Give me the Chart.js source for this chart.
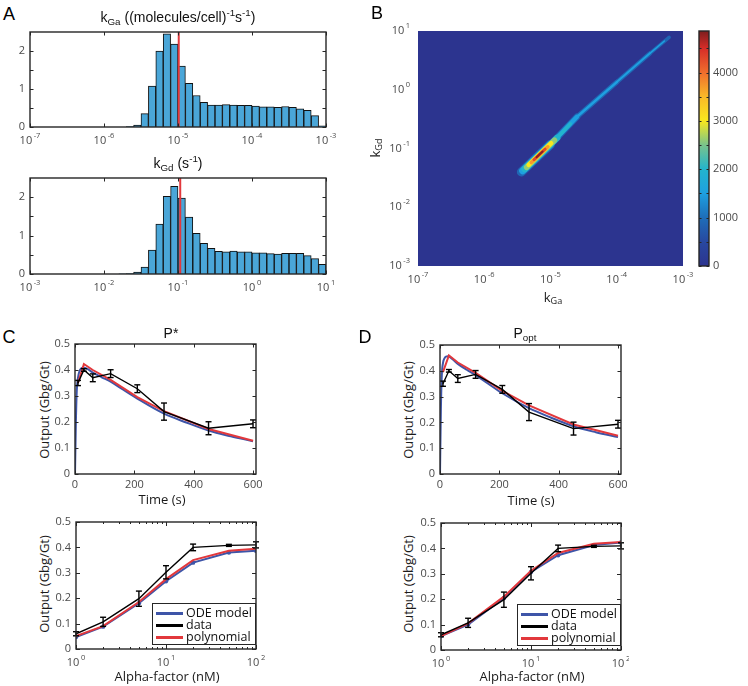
<!DOCTYPE html>
<html>
<head>
<meta charset="utf-8">
<script src="https://cdn.jsdelivr.net/npm/chart.js@4.4.1/dist/chart.umd.min.js"></script>
<style>
  html, body { margin: 0; padding: 0; background: #fff; }
  #fig { position: relative; width: 748px; height: 686px; overflow: hidden; }
  #fig canvas { position: absolute; }
  .txt { position: absolute; white-space: nowrap; line-height: 1; transform: translate(-50%, -50%);
         color: #1a1a1a; font-family: "Open Sans", sans-serif; font-size: 13px; }
  .txt sub, .txt sup { font-size: 70%; line-height: 0; }
  .txt sub { vertical-align: -0.3em; }
  .txt sup { vertical-align: 0.6em; }
  .rot { transform: translate(-50%, -50%) rotate(-90deg); }
  .letter { font-family: "Liberation Sans", Arial, sans-serif; font-size: 18px; color: #000; }
  .title { font-family: "Liberation Sans", Arial, sans-serif; font-size: 14px; color: #111; }
</style>
</head>
<body>
<div id="fig">
  <canvas id="a1"></canvas>
  <canvas id="a2"></canvas>
  <canvas id="b"></canvas>
  <canvas id="cb"></canvas>
  <canvas id="c1"></canvas>
  <canvas id="c2"></canvas>
  <canvas id="d1"></canvas>
  <canvas id="d2"></canvas>

  <div class="txt letter" style="left:9px;top:14px">A</div>
  <div class="txt letter" style="left:377px;top:13px">B</div>
  <div class="txt letter" style="left:9px;top:337px">C</div>
  <div class="txt letter" style="left:365px;top:337px">D</div>

  <div class="txt title" style="left:178px;top:17px">k<sub>Ga</sub> ((molecules/cell)<sup>-1</sup>s<sup>-1</sup>)</div>
  <div class="txt title" style="left:178px;top:163px">k<sub>Gd</sub> (s<sup>-1</sup>)</div>

  <div class="txt rot" style="left:375px;top:148px">k<sub>Gd</sub></div>
  <div class="txt" style="left:553px;top:297px">k<sub>Ga</sub></div>

  <div class="txt title" style="left:171px;top:333px">P*</div>
  <div class="txt title" style="left:525px;top:333px">P<sub>opt</sub></div>

  <div class="txt rot" style="left:44px;top:410px">Output (Gbg/Gt)</div>
  <div class="txt rot" style="left:44px;top:584px">Output (Gbg/Gt)</div>
  <div class="txt rot" style="left:408px;top:410px">Output (Gbg/Gt)</div>
  <div class="txt rot" style="left:408px;top:584px">Output (Gbg/Gt)</div>

  <div class="txt" style="left:162px;top:499px">Time (s)</div>
  <div class="txt" style="left:531px;top:500px">Time (s)</div>
  <div class="txt" style="left:167px;top:676px">Alpha-factor (nM)</div>
  <div class="txt" style="left:532px;top:676px">Alpha-factor (nM)</div>
</div>

<script>
// ---- Panel A: posterior histograms (log10 bin centres, density) ----
const kGaBins = [-5.65, -5.55, -5.45, -5.35, -5.25, -5.15, -5.05, -4.95, -4.85, -4.75, -4.65, -4.55, -4.45, -4.35,
                 -4.25, -4.15, -4.05, -3.95, -3.85, -3.75, -3.65, -3.55, -3.45, -3.35, -3.25, -3.15, -3.05];
const kGaDensity = [0.01, 0.05, 0.35, 1.08, 2.0, 2.45, 2.18, 1.6, 1.15, 0.83, 0.65, 0.58, 0.58, 0.59,
                    0.58, 0.57, 0.57, 0.55, 0.53, 0.53, 0.52, 0.54, 0.52, 0.48, 0.44, 0.3, 0.03];
const kGaBest = -4.99;

const kGdBins = [-1.75, -1.65, -1.55, -1.45, -1.35, -1.25, -1.15, -1.05, -0.95, -0.85, -0.75, -0.65, -0.55, -0.45,
                 -0.35, -0.25, -0.15, -0.05, 0.05, 0.15, 0.25, 0.35, 0.45, 0.55, 0.65, 0.75, 0.85, 0.95];
const kGdDensity = [0.005, 0.01, 0.05, 0.18, 0.62, 1.3, 2.02, 2.28, 1.98, 1.48, 1.06, 0.8, 0.67, 0.59,
                    0.58, 0.6, 0.58, 0.58, 0.55, 0.55, 0.53, 0.52, 0.54, 0.54, 0.54, 0.48, 0.4, 0.25];
const kGdBest = -0.97;

const kGaDecades = [-7, -6, -5, -4, -3];
const kGdDecades = [-3, -2, -1, 0, 1];
const densityTicks = [0, 0.5, 1, 1.5, 2];
const densityLabels = [0, 1, 2];

// ---- Panel B: joint density ridge, as bands of equal count (log10 kGa, log10 kGd) ----
const bandLevels = [900, 1500, 2000, 2600, 3000, 3700, 4300, 4800];
const bandGa = [
  [-5.44, -5.0, -4.6, -4.0, -3.5, -3.21],
  [-5.42, -5.0, -4.6, -4.0, -3.5, -3.28],
  [-5.39, -4.9, -4.7],
  [-5.36, -4.94],
  [-5.33, -4.99],
  [-5.29, -5.04],
  [-5.25, -5.08],
  [-5.21, -5.12]
];
const bandGd = [
  [-1.40, -0.93, -0.46, 0.13, 0.62, 0.89],
  [-1.38, -0.93, -0.46, 0.13, 0.62, 0.83],
  [-1.35, -0.82, -0.58],
  [-1.32, -0.86],
  [-1.28, -0.91],
  [-1.24, -0.97],
  [-1.19, -1.01],
  [-1.15, -1.05]
];
const countMax = 4860;
const countTicks = [0, 500, 1000, 1500, 2000, 2500, 3000, 3500, 4000, 4500];
const countLabels = [0, 1000, 2000, 3000, 4000];

// ---- Panels C/D: time course (s) ----
const dataTime = [10, 30, 60, 120, 210, 300, 450, 600];
const dataOut = [0.35, 0.40, 0.37, 0.386, 0.328, 0.24, 0.176, 0.193];
const dataOutErr = [0.01, 0.005, 0.015, 0.015, 0.015, 0.033, 0.025, 0.015];
const odeTime = [0, 3, 6, 10, 15, 20, 26, 40, 60, 90, 120, 160, 210, 300, 375, 450, 525, 600];
const odeOutC = [0, 0.20, 0.32, 0.37, 0.395, 0.405, 0.41, 0.405, 0.39, 0.372, 0.355, 0.326, 0.29, 0.232, 0.198, 0.167, 0.145, 0.126];
const polyOutC = [0.35, 0.423, 0.40, 0.362, 0.296, 0.242, 0.173, 0.128];
const odeOutD = [0, 0.25, 0.38, 0.43, 0.448, 0.455, 0.456, 0.447, 0.427, 0.404, 0.383, 0.352, 0.313, 0.255, 0.218, 0.185, 0.162, 0.143];
const polyOutD = [0.395, 0.46, 0.432, 0.392, 0.322, 0.266, 0.192, 0.148];
const timeTicks = [0, 200, 400, 600];

// ---- Panels C/D: dose response (nM) ----
const dose = [1, 2, 5, 10, 20, 50, 100];
const doseOut = [0.06, 0.107, 0.198, 0.302, 0.40, 0.408, 0.41];
const doseOutErr = [0.008, 0.018, 0.03, 0.026, 0.013, 0.004, 0.012];
const doseOdeC = [0.047, 0.088, 0.18, 0.267, 0.34, 0.38, 0.387];
const dosePolyC = [0.051, 0.09, 0.185, 0.275, 0.35, 0.387, 0.395];
const doseOdeD = [0.055, 0.10, 0.205, 0.307, 0.373, 0.413, 0.423];
const dosePolyD = [0.055, 0.105, 0.21, 0.312, 0.382, 0.418, 0.425];
const doseMajor = [1, 10, 100];
const doseMinor = [2, 3, 4, 5, 6, 7, 8, 9, 20, 30, 40, 50, 60, 70, 80, 90];
const outTicks = [0, 0.1, 0.2, 0.3, 0.4, 0.5];

// ---- styles ----
const FONT = '"Open Sans", "DejaVu Sans", sans-serif';
const BLUE = '#3e55a8', RED = '#e2383c', BAR = '#4aa6d8';
const cmapPos = [0, 0.103, 0.206, 0.309, 0.412, 0.514, 0.617, 0.72, 0.823, 0.926, 1];
const cmapRGB = [[44, 52, 143], [40, 72, 160], [30, 110, 185], [30, 160, 225], [35, 180, 205], [120, 195, 140],
                 [248, 232, 30], [250, 185, 40], [240, 110, 45], [215, 45, 40], [125, 30, 30]];
const bandWidths = [[9, 6.5, 5, 4.5, 3.5], [7, 4.5, 2.5, 2, 1.5], [6.5, 3.5], [5.5], [4.5], [3.5], [2.8], [2]];

function cmap(v) {
  const f = Math.max(0, Math.min(1, v / countMax));
  let i = 0;
  while (i < cmapPos.length - 2 && f > cmapPos[i + 1]) i++;
  const t = (f - cmapPos[i]) / (cmapPos[i + 1] - cmapPos[i]);
  const c = cmapRGB[i].map((a, k) => Math.round(a + (cmapRGB[i + 1][k] - a) * t));
  return `rgb(${c[0]},${c[1]},${c[2]})`;
}

function line(ctx, x1, y1, x2, y2) {
  ctx.beginPath(); ctx.moveTo(x1, y1); ctx.lineTo(x2, y2); ctx.stroke();
}

// "10" with a raised exponent
function pow10(ctx, x, y, e, align) {
  const ex = String(e);
  ctx.font = '11px ' + FONT;
  const w1 = ctx.measureText('10').width;
  ctx.font = '7.5px ' + FONT;
  const w2 = ctx.measureText(ex).width;
  const total = w1 + 1.5 + w2;
  const x0 = align === 'right' ? x - total : x - total / 2;
  ctx.textAlign = 'left'; ctx.textBaseline = 'middle';
  ctx.font = '11px ' + FONT;
  ctx.fillText('10', x0, y);
  ctx.font = '7.5px ' + FONT;
  ctx.fillText(ex, x0 + w1 + 1.5, y - 5);
}

// MATLAB-like box, inward ticks and tick labels
const axesPlugin = {
  id: 'mAxes',
  afterDraw(chart, args, o) {
    if (!o.on) return;
    const { ctx, chartArea: a } = chart;
    const sx = chart.scales.x, sy = chart.scales.y;
    const len = o.len || 3.5;
    ctx.save();
    ctx.strokeStyle = '#262626';
    ctx.lineWidth = 1;
    const xt = (vals, l) => (vals || []).forEach(v => {
      const p = Math.round(sx.getPixelForValue(v)) + 0.5;
      line(ctx, p, a.bottom, p, a.bottom - l);
      line(ctx, p, a.top, p, a.top + l);
    });
    const yt = (vals, l) => (vals || []).forEach(v => {
      const p = Math.round(sy.getPixelForValue(v)) + 0.5;
      line(ctx, a.left, p, a.left + l, p);
      line(ctx, a.right, p, a.right - l, p);
    });
    xt(o.xTicks, len); xt(o.xMinor, len / 2);
    yt(o.yTicks, len);
    if (o.box) {
      ctx.lineWidth = 1.4;
      ctx.strokeRect(a.left, a.top, a.right - a.left, a.bottom - a.top);
    }
    ctx.fillStyle = '#4a4a4a';
    (o.xLabels || []).forEach(v => {
      const p = sx.getPixelForValue(v);
      if (o.xPow) pow10(ctx, p, a.bottom + (o.xGap || 14), o.xPow(v), 'center');
      else {
        ctx.font = '11px ' + FONT; ctx.textAlign = 'center'; ctx.textBaseline = 'middle';
        ctx.fillText(String(v), p, a.bottom + (o.xGap || 11));
      }
    });
    (o.yLabels || []).forEach(v => {
      const p = sy.getPixelForValue(v);
      if (o.yPow) pow10(ctx, a.left - (o.yGap || 5), p, o.yPow(v), 'right');
      else {
        ctx.font = (o.yFont || 11) + 'px ' + FONT; ctx.textBaseline = 'middle';
        const s = o.yFmt ? o.yFmt(v) : String(v);
        if (o.yRight) { ctx.textAlign = 'left'; ctx.fillText(s, a.right + (o.yGap || 4), p); }
        else { ctx.textAlign = 'right'; ctx.fillText(s, a.left - (o.yGap || 5), p); }
      }
    });
    ctx.restore();
  }
};

// plot background / colour bar gradient
const fillPlugin = {
  id: 'mFill',
  beforeDatasetsDraw(chart, args, o) {
    const { ctx, chartArea: a } = chart;
    if (o.color) {
      ctx.save(); ctx.fillStyle = o.color;
      ctx.fillRect(a.left, a.top, a.right - a.left, a.bottom - a.top);
      ctx.restore();
    }
    if (o.gradient) {
      const sy = chart.scales.y;
      const g = ctx.createLinearGradient(0, sy.getPixelForValue(0), 0, sy.getPixelForValue(countMax));
      cmapPos.forEach((p, i) => g.addColorStop(p, `rgb(${cmapRGB[i].join(',')})`));
      ctx.save(); ctx.fillStyle = g;
      ctx.fillRect(a.left, a.top, a.right - a.left, a.bottom - a.top);
      ctx.restore();
    }
  }
};

// vertical error bars with caps
const errorPlugin = {
  id: 'mErr',
  afterDatasetsDraw(chart) {
    const { ctx } = chart;
    const sy = chart.scales.y;
    chart.data.datasets.forEach((ds, i) => {
      if (!ds.errors) return;
      const meta = chart.getDatasetMeta(i);
      ctx.save();
      ctx.strokeStyle = ds.borderColor; ctx.lineWidth = 1.4;
      meta.data.forEach((pt, j) => {
        const v = ds.data[j].y, e = ds.errors[j];
        const top = sy.getPixelForValue(v + e), bot = sy.getPixelForValue(v - e);
        line(ctx, pt.x, top, pt.x, bot);
        line(ctx, pt.x - 3, top, pt.x + 3, top);
        line(ctx, pt.x - 3, bot, pt.x + 3, bot);
      });
      ctx.restore();
    });
  }
};

// boxed legend in the lower right corner
const legendPlugin = {
  id: 'mLegend',
  afterDraw(chart, args, o) {
    if (!o.order) return;
    const { ctx, chartArea: a } = chart;
    const w = 103, h = 41;
    const x0 = Math.round(a.right - 1 - w), y0 = Math.round(a.bottom - 5 - h);
    ctx.save();
    ctx.fillStyle = '#fff'; ctx.fillRect(x0, y0, w, h);
    ctx.strokeStyle = '#262626'; ctx.lineWidth = 1; ctx.strokeRect(x0 + 0.5, y0 + 0.5, w, h);
    ctx.font = '12.5px ' + FONT; ctx.textAlign = 'left'; ctx.textBaseline = 'middle';
    o.order.forEach((di, i) => {
      const ds = chart.data.datasets[di];
      const yy = y0 + 10.5 + i * 12;
      ctx.strokeStyle = ds.borderColor; ctx.lineWidth = 3;
      line(ctx, x0 + 4, yy, x0 + 31, yy);
      ctx.fillStyle = '#111';
      ctx.fillText(ds.label, x0 + 34, yy);
    });
    ctx.restore();
  }
};

Chart.register(axesPlugin, fillPlugin, errorPlugin, legendPlugin);

function place(id, cx, cy, cw, ch, plot) {
  const c = document.getElementById(id);
  c.width = cw; c.height = ch;
  c.style.left = cx + 'px'; c.style.top = cy + 'px';
  c.style.width = cw + 'px'; c.style.height = ch + 'px';
  return { canvas: c, padding: { left: plot[0] - cx, top: plot[1] - cy, right: cx + cw - plot[2], bottom: cy + ch - plot[3] } };
}

function opts(padding, xs, ys, plugins) {
  return {
    responsive: false, animation: false, events: [],
    layout: { padding },
    plugins: Object.assign({ legend: { display: false }, tooltip: { enabled: false } }, plugins),
    scales: { x: Object.assign({ display: false }, xs), y: Object.assign({ display: false }, ys) }
  };
}

const xy = (xs, ys) => xs.map((x, i) => ({ x, y: ys[i] }));

// ---- A: histograms ----
function histogram(id, box, plot, bins, dens, best, decades) {
  const p = place(id, ...box, plot);
  new Chart(p.canvas, {
    type: 'bar',
    data: {
      datasets: [
        { type: 'bar', data: xy(bins, dens), backgroundColor: BAR, borderColor: '#111', borderWidth: 1,
          barPercentage: 1, categoryPercentage: 1, order: 2 },
        { type: 'line', data: [{ x: best, y: 0 }, { x: best, y: 2.5 }], borderColor: RED, borderWidth: 2,
          pointRadius: 0, order: 1 }
      ]
    },
    options: opts(p.padding,
      { type: 'linear', min: decades[0], max: decades[decades.length - 1], offset: false },
      { type: 'linear', min: 0, max: 2.5 },
      { mAxes: { on: true, box: true, xTicks: decades, xLabels: decades, xPow: v => v,
                 yTicks: densityTicks, yLabels: densityLabels, len: 3.5 } })
  });
}
histogram('a1', [0, 24, 345, 126], [30, 32, 326, 127], kGaBins, kGaDensity, kGaBest, kGaDecades);
histogram('a2', [0, 170, 345, 126], [30, 178, 326, 274], kGdBins, kGdDensity, kGdBest, kGdDecades);

// ---- B: joint density ----
(function () {
  const p = place('b', 380, 14, 330, 280, [418, 31, 683, 266]);
  new Chart(p.canvas, {
    type: 'line',
    data: {
      datasets: bandLevels.map((lev, i) => ({
        data: xy(bandGa[i], bandGd[i]),
        borderColor: cmap(lev),
        borderWidth: bandWidths[i][0],
        borderCapStyle: 'round', borderJoinStyle: 'round',
        segment: { borderWidth: c => bandWidths[i][Math.min(c.p0DataIndex, bandWidths[i].length - 1)] },
        pointRadius: 0, tension: 0, order: bandLevels.length - i
      }))
    },
    options: opts(p.padding,
      { type: 'linear', min: -7, max: -3 },
      { type: 'linear', min: -3, max: 1 },
      { mFill: { color: cmap(0) },
        mAxes: { on: true, box: false, xLabels: kGaDecades, xPow: v => v, xGap: 14,
                 yLabels: kGdDecades, yPow: v => v, yGap: 8 } })
  });
})();

// ---- B: colour bar ----
(function () {
  const p = place('cb', 692, 24, 56, 250, [699, 31, 709, 266]);
  new Chart(p.canvas, {
    type: 'line',
    data: { datasets: [] },
    options: opts(p.padding,
      { type: 'linear', min: 0, max: 1 },
      { type: 'linear', min: 0, max: countMax },
      { mFill: { gradient: true },
        mAxes: { on: true, box: true, yTicks: countTicks, yLabels: countLabels, yRight: true, yGap: 4, len: 2.5 } })
  });
})();

// ---- C/D top: time courses ----
function timeCourse(id, box, plot, ode, poly) {
  const p = place(id, ...box, plot);
  new Chart(p.canvas, {
    type: 'line',
    data: {
      datasets: [
        { label: 'ODE model', data: xy(odeTime, ode), borderColor: BLUE, borderWidth: 2, pointRadius: 0,
          cubicInterpolationMode: 'monotone', order: 3 },
        { label: 'polynomial', data: xy(dataTime, poly), borderColor: RED, borderWidth: 2, pointRadius: 0,
          tension: 0, order: 2 },
        { label: 'data', data: xy(dataTime, dataOut), errors: dataOutErr, borderColor: '#000', borderWidth: 1.4,
          pointRadius: 0, tension: 0, order: 1 }
      ]
    },
    options: opts(p.padding,
      { type: 'linear', min: 0, max: 610 },
      { type: 'linear', min: 0, max: 0.5 },
      { mAxes: { on: true, box: true, xTicks: timeTicks, xLabels: timeTicks, xGap: 11,
                 yTicks: outTicks, yLabels: outTicks, yFmt: v => v === 0 ? '0' : v.toFixed(1), len: 3.5 } })
  });
}
timeCourse('c1', [55, 338, 210, 158], [75, 344, 256, 474], odeOutC, polyOutC);
timeCourse('d1', [419, 338, 210, 158], [440, 345, 621, 474], odeOutD, polyOutD);

// ---- C/D bottom: dose response ----
function doseResponse(id, box, plot, ode, poly) {
  const p = place(id, ...box, plot);
  new Chart(p.canvas, {
    type: 'line',
    data: {
      datasets: [
        { label: 'ODE model', data: xy(dose, ode), borderColor: BLUE, backgroundColor: BLUE, borderWidth: 2,
          pointRadius: 2.2, pointBorderWidth: 0, tension: 0, order: 3 },
        { label: 'data', data: xy(dose, doseOut), errors: doseOutErr, borderColor: '#000', borderWidth: 1.4,
          pointRadius: 0, tension: 0, order: 1 },
        { label: 'polynomial', data: xy(dose, poly), borderColor: RED, borderWidth: 2, pointRadius: 0,
          tension: 0, order: 2 }
      ]
    },
    options: opts(p.padding,
      { type: 'logarithmic', min: 1, max: 100 },
      { type: 'linear', min: 0, max: 0.5 },
      { mAxes: { on: true, box: true, xTicks: doseMajor, xMinor: doseMinor, xLabels: doseMajor,
                 xPow: v => Math.round(Math.log10(v)), xGap: 14,
                 yTicks: outTicks, yLabels: outTicks, yFmt: v => v === 0 ? '0' : v.toFixed(1), len: 4 },
        mLegend: { order: [0, 1, 2] } })
  });
}
doseResponse('c2', [55, 514, 210, 158], [76, 522, 256, 649], doseOdeC, dosePolyC);
doseResponse('d2', [419, 514, 210, 158], [441, 523, 621, 650], doseOdeD, dosePolyD);
</script>
</body>
</html>
